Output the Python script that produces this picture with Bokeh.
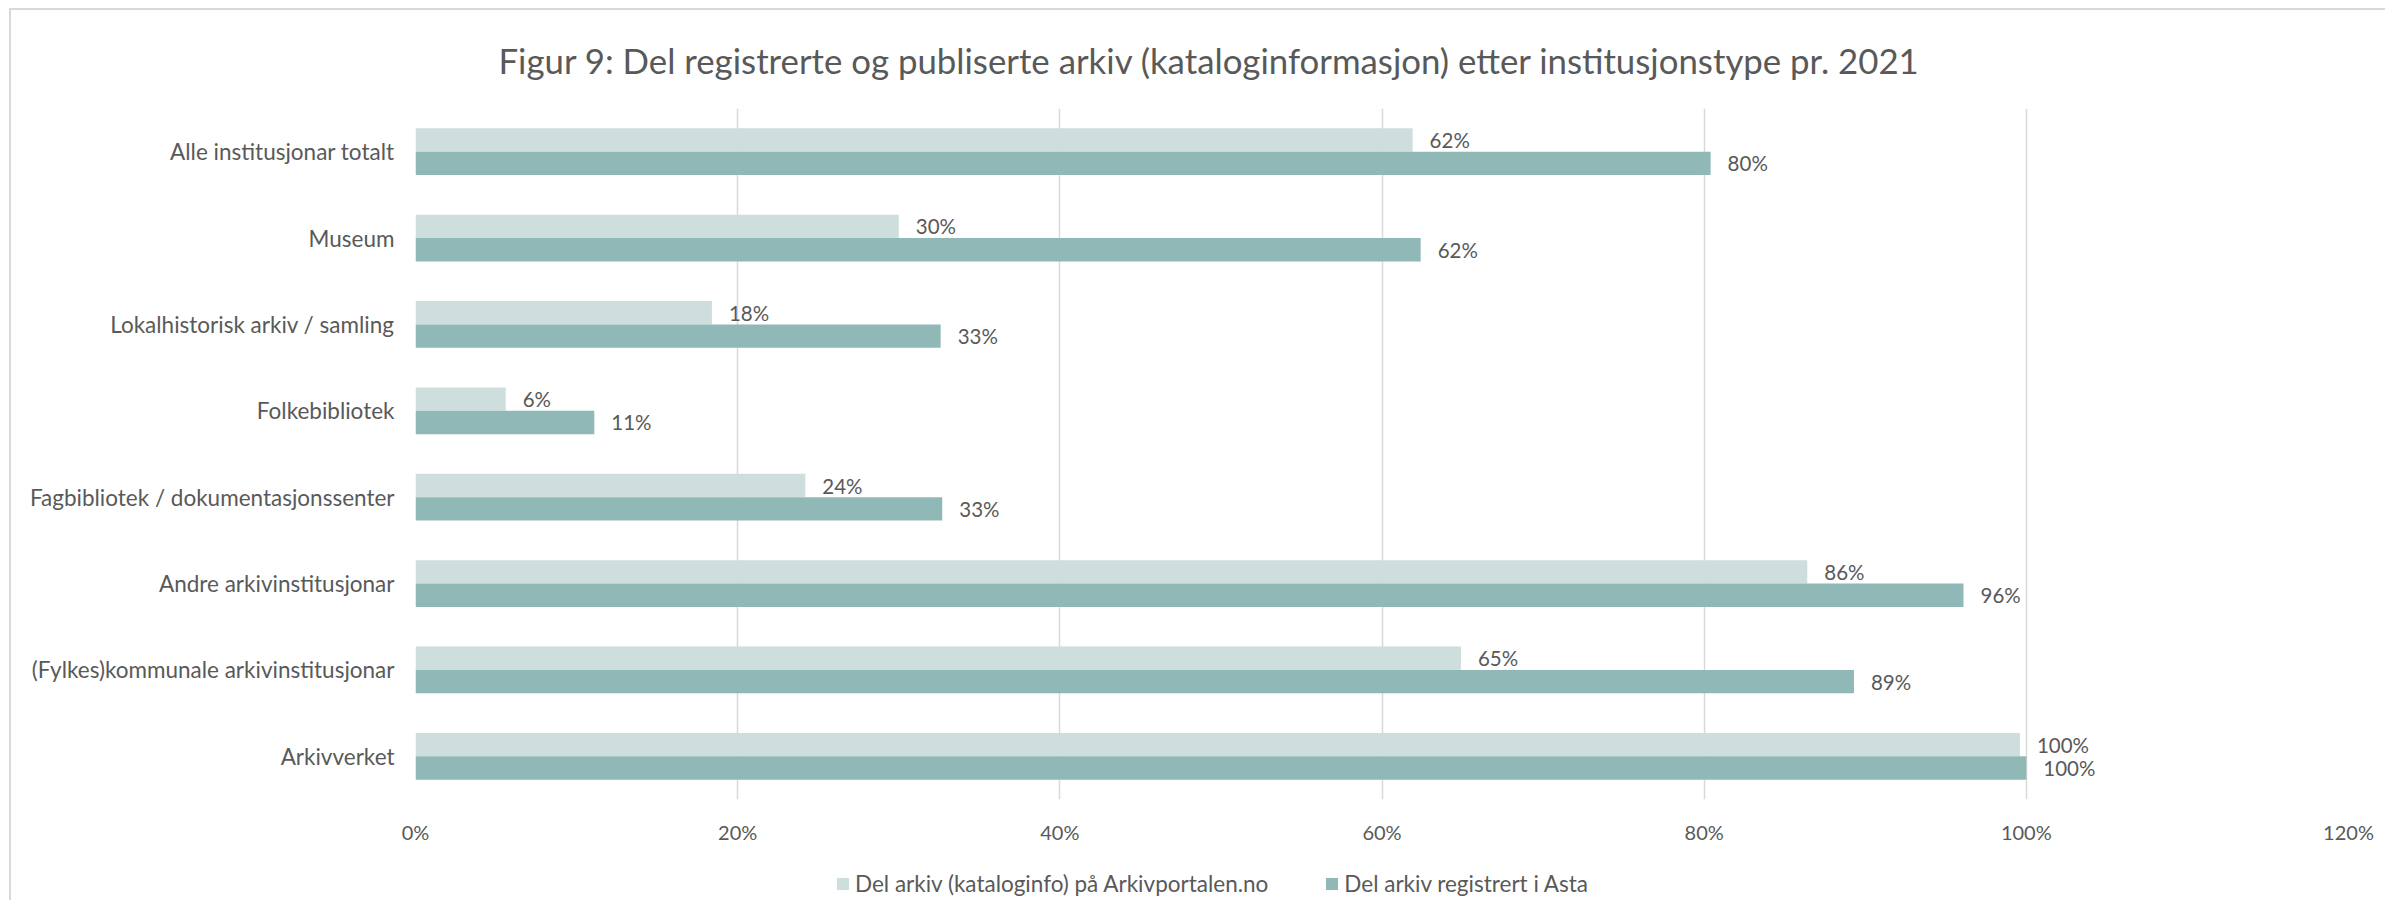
from bokeh.plotting import figure
from bokeh.layouts import column
from bokeh.models import (ColumnDataSource, FactorRange, Range1d, NumeralTickFormatter, FixedTicker,
                          Legend, LegendItem)
from bokeh.transform import dodge
from bokeh.core.properties import value
from bokeh.embed import file_html
from bokeh.resources import INLINE

# Data (top to bottom as in the reference)
categories = [
    "Alle institusjonar totalt",
    "Museum",
    "Lokalhistorisk arkiv / samling",
    "Folkebibliotek",
    "Fagbibliotek / dokumentasjonssenter",
    "Andre arkivinstitusjonar",
    "(Fylkes)kommunale arkivinstitusjonar",
    "Arkivverket",
]
portal_share = [0.619, 0.300, 0.184, 0.056, 0.242, 0.864, 0.649, 0.996]
asta_share = [0.804, 0.624, 0.326, 0.111, 0.327, 0.961, 0.893, 1.000]
series_names = ["Del arkiv (kataloginfo) på Arkivportalen.no", "Del arkiv registrert i Asta"]
x_ticks = [0, 0.2, 0.4, 0.6, 0.8, 1.0, 1.2]

FONT = "Lato"
TXT = "#595959"
LIGHT = "#CDDEDC"
DARK = "#8FB8B6"

src = ColumnDataSource(dict(
    cat=categories,
    portal=portal_share,
    asta=asta_share,
    portal_lbl=[f"{round(v*100)}%" for v in portal_share],
    asta_lbl=[f"{round(v*100)}%" for v in asta_share],
))

p = figure(
    width=2374, height=840,
    y_range=FactorRange(factors=list(reversed(categories))),
    x_range=Range1d(0, 1.2),
    output_backend="svg", toolbar_location=None,
    min_border_left=404, min_border_right=37, min_border_top=98, min_border_bottom=51,
)
p.outline_line_color = None

p.title.text = "Figur 9: Del registrerte og publiserte arkiv (kataloginformasjon) etter institusjonstype pr. 2021"
p.title.text_font = FONT
p.title.text_font_size = "34.8px"
p.title.text_font_style = "normal"
p.title.text_color = TXT
p.title.align = "left"
p.title.offset = 83
p.title.standoff = 55

BH = 0.27
p.hbar(y=dodge("cat", BH / 2, range=p.y_range), right="portal", left=0, height=BH,
       source=src, fill_color=LIGHT, line_color=None)
p.hbar(y=dodge("cat", -BH / 2, range=p.y_range), right="asta", left=0, height=BH,
       source=src, fill_color=DARK, line_color=None)

p.text(x="portal", y=dodge("cat", BH / 2, range=p.y_range), text="portal_lbl", source=src,
       x_offset=17, text_baseline="middle", text_align="left",
       text_font=value(FONT), text_font_size="20.5px", text_color=TXT)
p.text(x="asta", y=dodge("cat", -BH / 2, range=p.y_range), text="asta_lbl", source=src,
       x_offset=17, text_baseline="middle", text_align="left",
       text_font=value(FONT), text_font_size="20.5px", text_color=TXT)

# axes
xa = p.xaxis[0]
xa.ticker = FixedTicker(ticks=x_ticks)
xa.formatter = NumeralTickFormatter(format="0%")
xa.axis_line_color = None
xa.major_tick_line_color = None
xa.minor_tick_line_color = None
xa.major_tick_out = 0
xa.major_label_standoff = 20
xa.major_label_text_font = FONT
xa.major_label_text_font_size = "20px"
xa.major_label_text_color = TXT

ya = p.yaxis[0]
ya.axis_line_color = None
ya.major_tick_line_color = None
ya.minor_tick_line_color = None
ya.major_tick_out = 0
ya.major_label_standoff = 21
ya.major_label_text_font = FONT
ya.major_label_text_font_size = "22.5px"
ya.major_label_text_color = TXT

p.ygrid.grid_line_color = None
p.xgrid.grid_line_color = "#D9D9D9"
p.xgrid.grid_line_width = 1.5

# legend strip below the chart (its frame is aligned with the chart's frame);
# its key renderers lie outside its ranges so only the legend keys show
lg = figure(width=2374, height=50, x_range=Range1d(5, 6), y_range=Range1d(0, 1),
            output_backend="svg", toolbar_location=None,
            min_border_left=0, min_border_right=0, min_border_top=0, min_border_bottom=0)
lg.axis.visible = False
lg.grid.grid_line_color = None
lg.outline_line_color = None
k1 = lg.hbar(y=-5, right="portal", left=0, height=0.5, source=src,
             fill_color=LIGHT, line_color=None)
k2 = lg.hbar(y=-5, right="asta", left=0, height=0.5, source=src,
             fill_color=DARK, line_color=None)
legend = Legend(
    items=[LegendItem(label=series_names[0], renderers=[k1]),
           LegendItem(label=series_names[1], renderers=[k2])],
    orientation="horizontal",
    location=(420, 3),
    glyph_width=15, glyph_height=15, label_standoff=5, spacing=56, label_height=24,
    padding=0, margin=0,
    label_text_font=FONT, label_text_font_size="22.5px", label_text_color=TXT,
    border_line_color=None, background_fill_alpha=0,
)
lg.add_layout(legend, "center")

page = column(p, lg, spacing=0)
page.styles = {"margin-left": "9px", "margin-top": "8px",
               "border-left": "2px solid #D9D9D9", "border-top": "2px solid #D9D9D9"}
open("out.html", "w").write(file_html(page, INLINE))
